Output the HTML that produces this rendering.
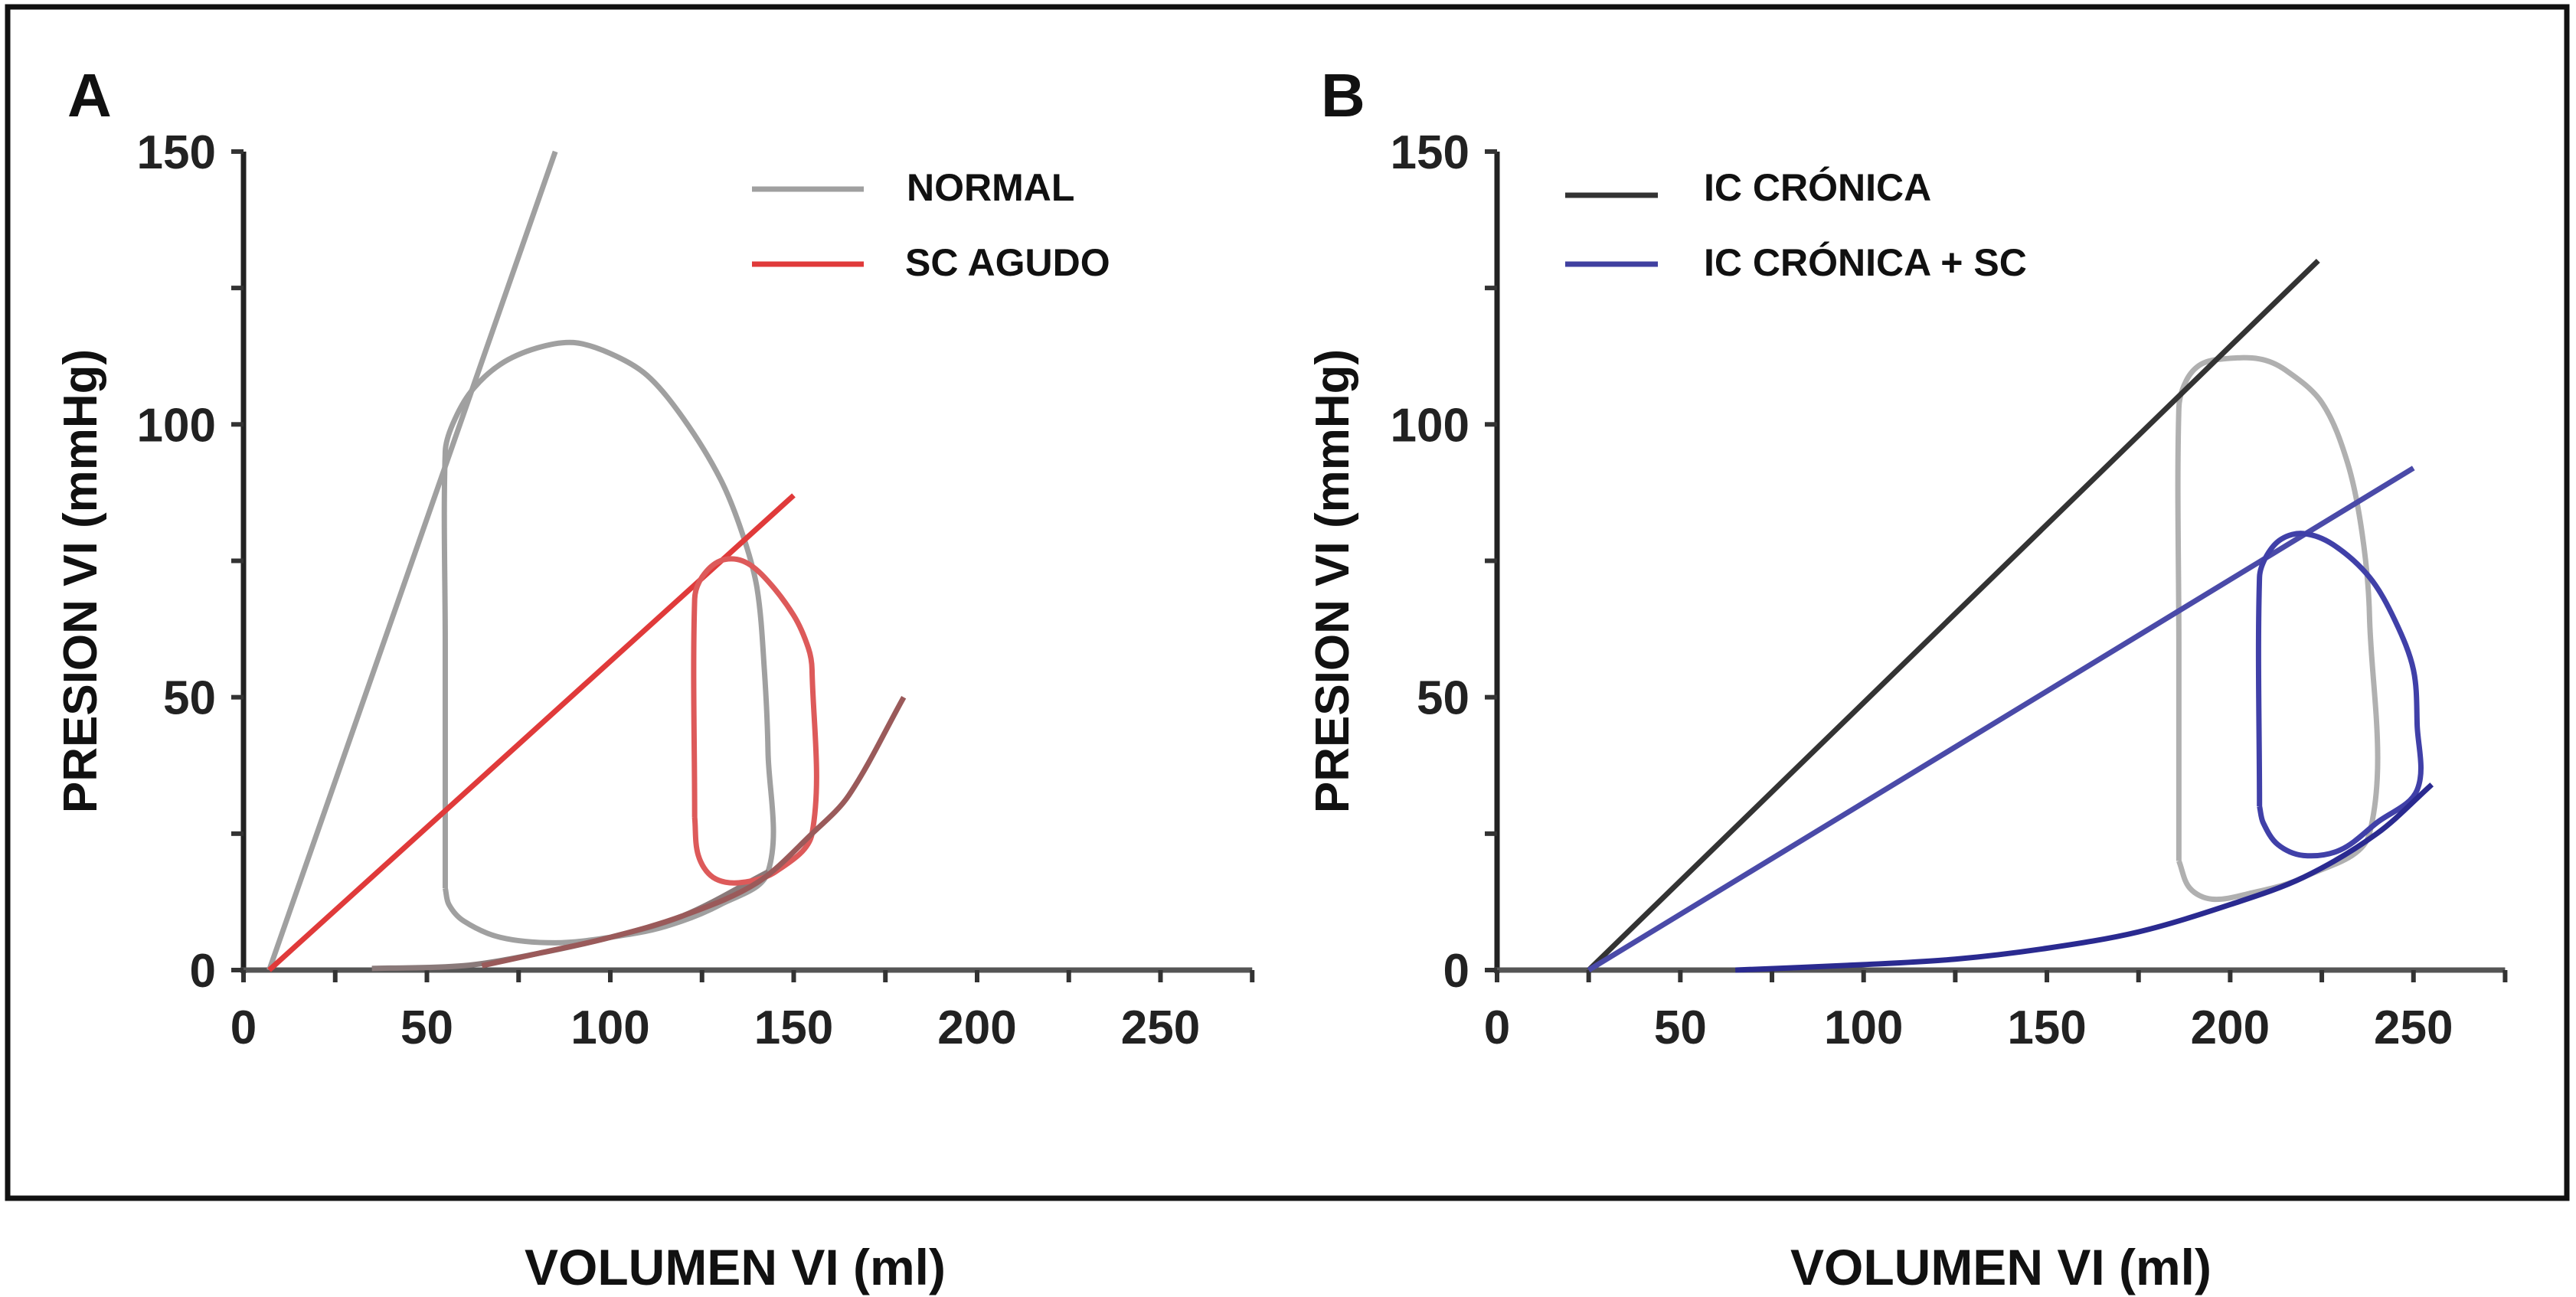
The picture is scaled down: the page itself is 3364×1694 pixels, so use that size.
<!DOCTYPE html>
<html><head><meta charset="utf-8"><style>
html,body{margin:0;padding:0;background:#fff;}
svg{display:block;font-family:"Liberation Sans",sans-serif;}
</style></head><body>
<svg id="s" width="3364" height="1694" viewBox="0 0 3364 1694" xmlns="http://www.w3.org/2000/svg">
<rect x="10" y="9" width="3342" height="1556" fill="none" stroke="#111" stroke-width="7"/>
<text x="88" y="152" font-size="80" font-weight="bold" fill="#111">A</text>
<text x="1725" y="152" font-size="80" font-weight="bold" fill="#111">B</text>
<text x="960" y="1678" font-size="66" font-weight="bold" fill="#111" text-anchor="middle">VOLUMEN VI (ml)</text>
<text x="2613" y="1678" font-size="66" font-weight="bold" fill="#111" text-anchor="middle">VOLUMEN VI (ml)</text>
<text transform="translate(126,759) rotate(-90)" font-size="62" font-weight="bold" fill="#111" text-anchor="middle">PRESION VI (mmHg)</text>
<text transform="translate(1761,759) rotate(-90)" font-size="62" font-weight="bold" fill="#111" text-anchor="middle">PRESION VI (mmHg)</text>
<line x1="982" y1="247" x2="1128" y2="247" stroke="#a0a0a0" stroke-width="7"/>
<text x="1184" y="262" font-size="50" font-weight="bold" fill="#111">NORMAL</text>
<line x1="982" y1="345" x2="1128" y2="345" stroke="#e03a3a" stroke-width="7"/>
<text x="1182" y="360" font-size="50" font-weight="bold" fill="#111">SC AGUDO</text>
<line x1="2044" y1="255" x2="2165" y2="255" stroke="#333" stroke-width="7"/>
<text x="2225" y="262" font-size="50" font-weight="bold" fill="#111">IC CRÓNICA</text>
<line x1="2044" y1="345" x2="2165" y2="345" stroke="#4040a0" stroke-width="7"/>
<text x="2225" y="360" font-size="50" font-weight="bold" fill="#111">IC CRÓNICA + SC</text>
<g id="plots"></g>
</svg>
<script>
const xTicks=[0,50,100,150,200,250];
const xMinor=[25,75,125,175,225,275];
const yTicks=[0,50,100];
const yTop=[150];
const yMinor=[25,75,125];
// Panel A series [volume, pressure]
const normalEspvr=[[7,0],[85,150]];
const normalLoop=[[55,15],[55,60],[55,95],[57,100],[62,106],[70,111],[80,114],[90,115],[100,113],[110,109],[120,101],[130,90],[136,80],[140,70],[142,55],[143,40],[143,18],[130,12],[115,8],[100,6],[85,5],[70,6],[60,9],[56,12],[55,15]];
const normalEdpvr=[[35,0.3],[60,0.8],[80,3],[100,6],[120,10],[143,18]];
const scEspvr=[[7,0],[150,87]];
const scLoop=[[123,28],[123,68],[125,72],[130,75],[136,75],[142,72],[150,65],[154,59],[155,55],[155,25],[145,18],[135,16],[128,17],[124,21],[123,28]];
const scEdpvr=[[65,0.8],[80,3],[100,6],[120,10],[140,16],[155,25],[165,32],[180,50]];
// Panel B series
const icEspvr=[[25,0],[224,130]];
const icLoop=[[186,20],[186,60],[186,103],[188,108],[192,111],[198,112],[208,112],[215,110],[225,104],[232,93],[236,80],[238,65],[238,25],[220,17],[205,14],[195,13],[189,15],[186,20]];
const icscEspvr=[[25,0],[250,92]];
const icscLoop=[[208,30],[208,72],[210,76],[214,79],[220,80],[228,78],[238,72],[245,64],[250,55],[251,45],[251,33],[240,27],[230,22],[220,21],[213,23],[209,27],[208,30]];
const icscEdpvr=[[65,0],[100,1],[125,2],[150,4],[175,7],[200,12],[220,17],[240,25],[255,34]];

const NS='http://www.w3.org/2000/svg';
const g=document.getElementById('plots');
const yS=p=>1267-p*7.127;
const xA=v=>318+v*4.79;
const xB=v=>1955+v*4.787;
function mk(tag,attrs){const e=document.createElementNS(NS,tag);for(const k in attrs)e.setAttribute(k,attrs[k]);g.appendChild(e);return e;}
function smooth(pts,xf){
  const P=pts.map(p=>[xf(p[0]),yS(p[1])]);
  if(P.length<3)return 'M'+P.map(p=>p.join(',')).join('L');
  const tan=i=>{const a=P[i-1]||P[i],b=P[i+1]||P[i];const dx=b[0]-a[0],dy=b[1]-a[1];const l=Math.hypot(dx,dy)||1;return [dx/l,dy/l];};
  let d='M'+P[0][0]+','+P[0][1];
  for(let i=0;i<P.length-1;i++){
    const p1=P[i],p2=P[i+1];
    const L=Math.hypot(p2[0]-p1[0],p2[1]-p1[1])*0.33;
    const t1=tan(i),t2=tan(i+1);
    d+='C'+(p1[0]+t1[0]*L)+','+(p1[1]+t1[1]*L)+' '+(p2[0]-t2[0]*L)+','+(p2[1]-t2[1]*L)+' '+p2[0]+','+p2[1];
  }
  return d;
}
function series(pts,xf,color,name){
  const e=mk('path',{d:smooth(pts,xf),fill:'none',stroke:color,'stroke-width':7,'stroke-linejoin':'round'});
  
  
}
function axes(xf,pre){
  const x0=xf(0),x1=xf(275),y0=yS(0),y1=yS(150);
  const ya=mk('line',{x1:x0,y1:y1,x2:x0,y2:y0+4,stroke:'#222','stroke-width':7});
  
  
  const xa=mk('line',{x1:x0-4,y1:y0,x2:x1,y2:y0,stroke:'#555','stroke-width':7});
  
  
  xTicks.concat(xMinor).forEach(v=>{
    const t=mk('line',{x1:xf(v),y1:y0,x2:xf(v),y2:y0+16,stroke:'#333','stroke-width':6});
    
    
  });
  xTicks.forEach(v=>{
    const t=mk('text',{x:xf(v),y:y0+96,'font-size':62,'font-weight':'bold',fill:'#222','text-anchor':'middle'});
    t.textContent=v;
    
    
  });
  yTicks.concat(yTop,yMinor).forEach(v=>{
    const t=mk('line',{x1:x0-16,y1:yS(v),x2:x0,y2:yS(v),stroke:'#333','stroke-width':6});
    
    
  });
  yTicks.concat(yTop).forEach(v=>{
    const t=mk('text',{x:x0-36,y:yS(v)+22,'font-size':62,'font-weight':'bold',fill:'#222','text-anchor':'end'});
    t.textContent=v;
    
    
  });
}
axes(xA,'panel-a');
axes(xB,'panel-b');
series(normalEspvr,xA,'#a0a0a0','normal-espvr-line');
series(normalLoop,xA,'#a0a0a0','normal-pv-loop');
series(normalEdpvr,xA,'#8a7a7a','normal-edpvr-curve');
series(scEspvr,xA,'#e03a3a','sc-agudo-espvr-line');
series(scLoop,xA,'#dd5a5a','sc-agudo-pv-loop');
series(scEdpvr,xA,'#9a5a5a','sc-agudo-edpvr-curve');
series(icLoop,xB,'#b0b0b0','ic-cronica-pv-loop');
series(icEspvr,xB,'#333','ic-cronica-espvr-line');
series(icscEspvr,xB,'#4a4aa8','ic-cronica-sc-espvr-line');
series(icscLoop,xB,'#4040a8','ic-cronica-sc-pv-loop');
series(icscEdpvr,xB,'#2a2a90','ic-cronica-sc-edpvr-curve');
</script>
</body></html>
